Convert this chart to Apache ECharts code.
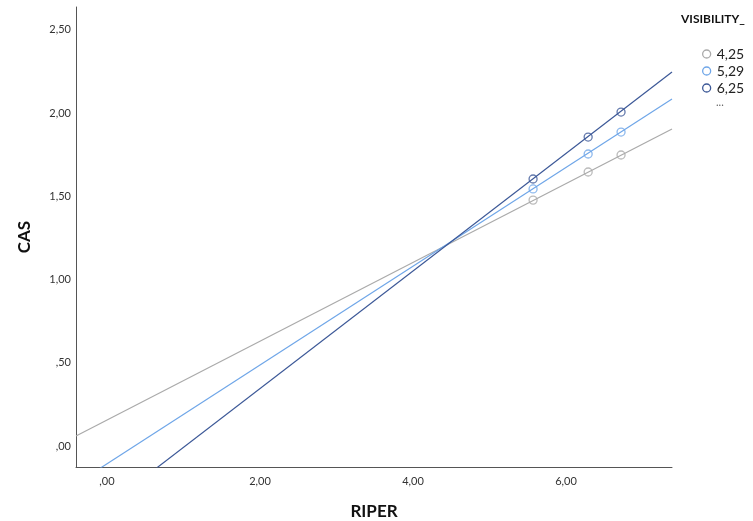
<!DOCTYPE html>
<html>
<head>
<meta charset="utf-8">
<script src="https://cdn.jsdelivr.net/npm/echarts@6/dist/echarts.min.js"></script>
<style>html,body{margin:0;padding:0;background:#fff;}#c{width:753px;height:521px;}</style>
</head>
<body>
<div id="c"></div>
<script>
var seriesNames = ['4,25', '5,29', '6,25'];
var xPoints = [5.57, 6.29, 6.72];
var yGray = [1.477, 1.646, 1.748];
var yLight = [1.544, 1.754, 1.886];
var yDark = [1.604, 1.856, 2.006];
// fit line endpoints [x, y] (extending across the axis range)
var fitGray = [[-0.405, 0.060], [7.386, 1.904]];
var fitLight = [[-0.405, -0.227], [7.386, 2.084]];
var fitDark = [[-0.405, -0.504], [7.386, 2.246]];
var xTicks = [0, 2, 4, 6];
var yTicks = [0, 0.5, 1, 1.5, 2, 2.5];
var colors = ['#aaaaaa', '#6fa6e8', '#3c5897'];

function fmt(v) {
  var s = Math.abs(v).toFixed(2).replace('.', ',');
  if (s.charAt(0) === '0') s = s.substring(1);
  return (v < 0 ? '-' : '') + s;
}
function pts(ys) { return xPoints.map(function (x, i) { return [x, ys[i]]; }); }

var chart = echarts.init(document.getElementById('c'));
var font = 'Lato, "Open Sans", sans-serif';
var scatterSets = [yGray, yLight, yDark];
var fits = [fitGray, fitLight, fitDark];
var series = [];
for (var i = 0; i < 3; i++) {
  series.push({
    name: seriesNames[i], type: 'line', data: fits[i], clip: true, showSymbol: false,
    symbol: 'none', lineStyle: { color: colors[i], width: 1.2 }, silent: true, z: 2
  });
  series.push({
    name: seriesNames[i], type: 'scatter', data: pts(scatterSets[i]), symbol: 'circle', symbolSize: 8,
    itemStyle: { color: 'rgba(255,255,255,0)', borderColor: colors[i], borderWidth: 1.3 }, z: 3
  });
}

chart.setOption({
  animation: false,
  textStyle: { fontFamily: font },
  grid: { left: 76, right: 81, top: 7, bottom: 54, containLabel: false, outerBoundsMode: 'none' },
  xAxis: {
    type: 'value', min: -0.405, max: 7.386,
    axisLine: { show: true, onZero: false, lineStyle: { color: '#555', width: 1 } },
    axisTick: { show: false },
    splitLine: { show: false },
    axisLabel: { customValues: xTicks, formatter: fmt, color: '#333', fontSize: 11, margin: 9, fontFamily: font },
    name: 'RIPER', nameLocation: 'middle', nameGap: 36,
    nameTextStyle: { fontSize: 17, fontWeight: 'bold', color: '#111', fontFamily: font }
  },
  yAxis: {
    type: 'value', min: -0.126, max: 2.637,
    axisLine: { show: true, onZero: false, lineStyle: { color: '#555', width: 1 } },
    axisTick: { show: false },
    splitLine: { show: false },
    axisLabel: { customValues: yTicks, formatter: fmt, color: '#333', fontSize: 11, margin: 5, fontFamily: font },
    name: 'CAS', nameLocation: 'middle', nameGap: 43, nameRotate: 90,
    nameTextStyle: { fontSize: 17, fontWeight: 'bold', color: '#111', fontFamily: font }
  },
  legend: {
    data: seriesNames.map(function (n, i) { return { name: n, icon: 'circle', itemStyle: { color: '#fff', borderColor: colors[i], borderWidth: 1.3 } }; }),
    orient: 'vertical', left: 697, top: 42, itemWidth: 8, itemHeight: 8, itemGap: 3,
    textStyle: { fontSize: 14, color: '#222', fontFamily: font, padding: [0, 0, 0, 1] },
    selectedMode: false
  },
  graphic: [
    { type: 'text', left: 681, top: 13, style: { text: 'VISIBILITY_', font: 'bold 12px ' + font, fill: '#111' } },
    { type: 'text', left: 716, top: 97, style: { text: '...', font: '11px ' + font, fill: '#666' } }
  ],
  series: series
});
</script>
</body>
</html>
